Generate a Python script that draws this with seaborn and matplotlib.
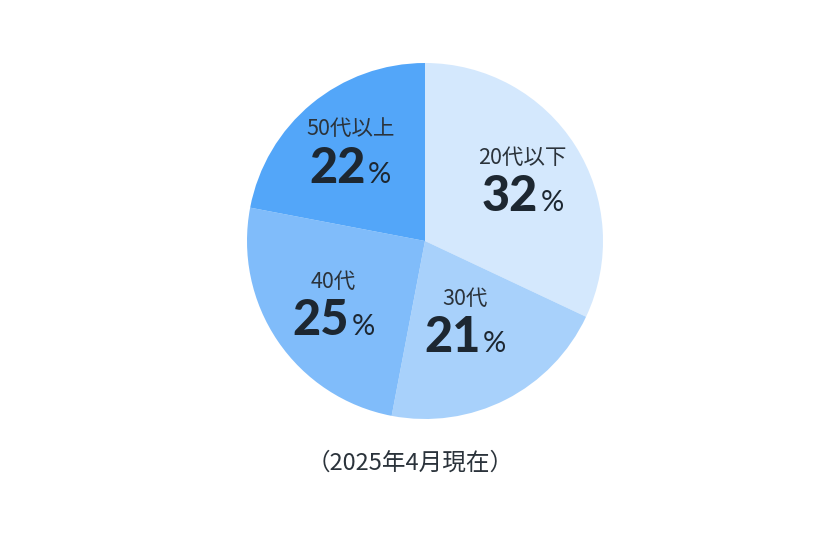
import matplotlib
matplotlib.use("Agg")
import matplotlib.pyplot as plt
import matplotlib.transforms as mtransforms
import numpy as np
import seaborn as sns

# data
groups = ["20代以下", "30代", "40代", "50代以上"]
shares = [32, 21, 25, 22]
colors = ["#D4E8FD", "#A8D1FB", "#80BCFA", "#53A6F9"]
note = "（2025年4月現在）"

# how far from the centre each label block sits (fraction of radius)
label_r = [0.65, 0.50, 0.62, 0.66]

sns.set_theme(style="white")
plt.rcParams["font.family"] = ["Noto Sans CJK JP", "DejaVu Sans"]

W, H, DPI = 825, 540, 100
fig = plt.figure(figsize=(W / DPI, H / DPI), dpi=DPI)
fig.patch.set_facecolor("white")

cx, cy, rad = 425, 241, 178
ax = fig.add_axes([(cx - rad) / W, (H - cy - rad) / H, 2 * rad / W, 2 * rad / H])

wedges, _ = ax.pie(shares, colors=colors, startangle=90, counterclock=False,
                   radius=1, wedgeprops=dict(linewidth=0))
ax.set_xlim(-1, 1)
ax.set_ylim(-1, 1)
ax.set_aspect("equal")
ax.axis("off")

num_color = "#1d2731"
lab_color = "#2b333b"

pairs = []
for w, g, s, r in zip(wedges, groups, shares, label_r):
    mid = np.deg2rad((w.theta1 + w.theta2) / 2)
    x, y = r * np.cos(mid), r * np.sin(mid)
    ax.text(x, y + 0.12, g, ha="center", va="center", fontsize=15.5,
            color=lab_color)
    num = ax.text(x, y - 0.18, str(s), ha="left", va="baseline",
                  fontsize=35, fontweight="black", family=["Lato", "DejaVu Sans"],
                  color=num_color)
    pct = ax.text(x, y - 0.18, "%", ha="left", va="baseline",
                  fontsize=21, family=["Lato", "DejaVu Sans"], color=num_color)
    pairs.append((num, pct))

fig.canvas.draw()
rend = fig.canvas.get_renderer()
gap = 2
for num, pct in pairs:
    wn = num.get_window_extent(rend).width
    wp = pct.get_window_extent(rend).width
    total = wn + gap + wp
    num.set_transform(mtransforms.offset_copy(ax.transData, fig=fig,
                                              x=-total / 2, y=0, units="dots"))
    pct.set_transform(mtransforms.offset_copy(ax.transData, fig=fig,
                                              x=-total / 2 + wn + gap, y=0,
                                              units="dots"))

fig.text(410 / W, 1 - 463 / H, note, ha="center", va="center",
         fontsize=17, color="#2b333b")

fig.savefig("out.png", dpi=DPI, facecolor="white")
